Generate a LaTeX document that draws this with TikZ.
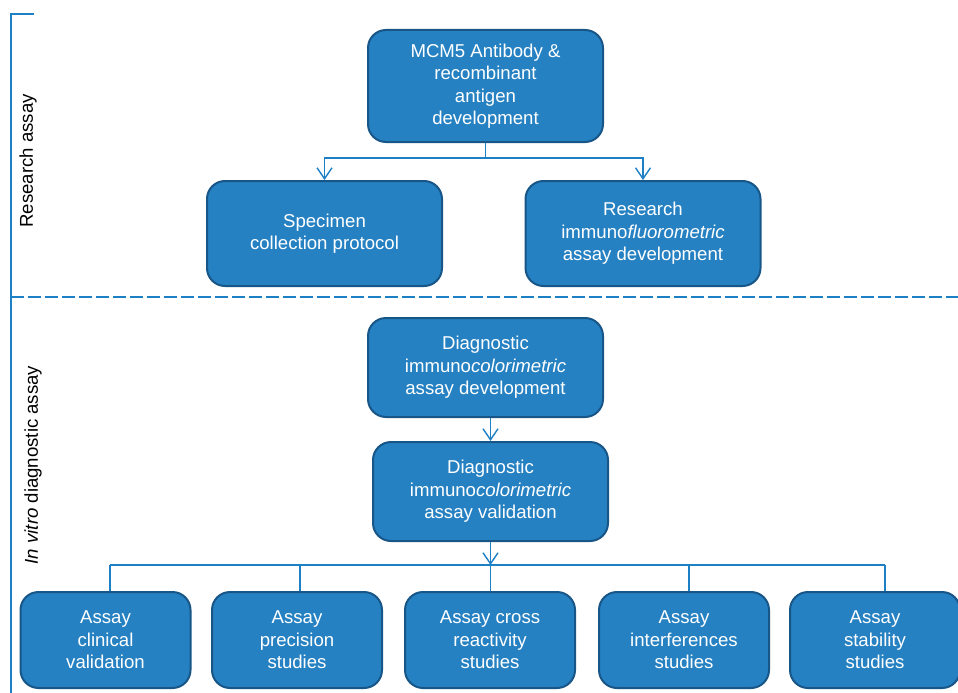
\documentclass[tikz,border=0pt]{standalone}
\usepackage{fontspec}
\setmainfont{Liberation Sans}
\usetikzlibrary{arrows.meta,positioning}

\definecolor{boxblue}{RGB}{38,129,194}
\definecolor{boxedge}{RGB}{24,86,136}
\definecolor{lineblue}{RGB}{30,128,196}

\tikzset{
  stepbox/.style={draw=boxedge, line width=2pt, fill=boxblue, rounded corners=18pt,
    text=white, align=center, inner sep=2pt},
  bigbox/.style={stepbox, minimum width=235pt, minimum height=105pt},
  midbox/.style={stepbox, minimum width=235pt, minimum height=99pt},
  smallbox/.style={stepbox, minimum width=170pt, minimum height=96pt},
  link/.style={draw=lineblue, line width=1.5pt},
  arrowlink/.style={link, arrows={-{Straight Barb[width=15pt,length=11pt,line width=1.4pt]}}}
}

\begin{document}
\begin{tikzpicture}[x=1pt, y=-1pt,
  font={\fontsize{18.6}{22.5}\selectfont}
  ]
  \useasboundingbox (0,0) rectangle (958,693);

  % section frame
  \draw[lineblue, line width=1.6pt] (34,14) -- (11,14) -- (11,693);
  \draw[lineblue, line width=1.4pt, dash pattern=on 13pt off 4pt] (11,297) -- (958,297);
  \node[rotate=90] (research) at (28,161) {Research assay};
  \node[rotate=90] (invitro) at (33,465) {\textit{In vitro} diagnostic assay};

  % research assay
  \node[stepbox, minimum width=235pt, minimum height=112pt] (mcm) at (485.5,86)
    {MCM5 Antibody \&\\recombinant\\antigen\\development};
  \node[bigbox] (specimen) at (324.5,233.5) {Specimen\\collection protocol};
  \node[bigbox] (ifma) at (643,233.5) {Research\\immuno\textit{fluorometric}\\assay development};

  \coordinate (split1) at (485.5,158);
  \draw[link] (mcm.south) -- (split1);
  \draw[arrowlink] (split1) -| (specimen.north);
  \draw[arrowlink] (split1) -| (ifma.north);

  % in vitro diagnostic assay
  \node[midbox] (icmadev) at (485.5,367.5) {Diagnostic\\immuno\textit{colorimetric}\\assay development};
  \node[midbox] (icmaval) at (490.5,491.5) {Diagnostic\\immuno\textit{colorimetric}\\assay validation};
  \draw[arrowlink] (icmadev.south -| icmaval.north) -- (icmaval.north);

  \node[smallbox] (clinical) at (105.5,640) {Assay\\clinical\\validation};
  \node[smallbox] (precision) at (297,640) {Assay\\precision\\studies};
  \node[smallbox] (cross) at (490,640) {Assay cross\\reactivity\\studies};
  \node[smallbox] (interf) at (684,640) {Assay\\interferences\\studies};
  \node[smallbox] (stability) at (875,640) {Assay\\stability\\studies};

  \coordinate (split2) at (490.5,565);
  \draw[arrowlink] (icmaval.south) -- (split2);
  \draw[link] (110,565) -- (885,565);
  \foreach \b/\x in {clinical/110, precision/300, cross/490.5, interf/689, stability/885}{
    \coordinate (tick) at (\x,565);
    \draw[link] (tick) -- (tick |- \b.north);
  }
\end{tikzpicture}
\end{document}
